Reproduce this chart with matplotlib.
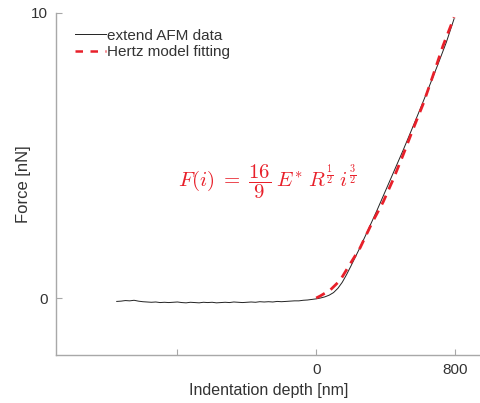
import matplotlib
matplotlib.use("Agg")
import matplotlib.pyplot as plt

# ---- data ----
# extend AFM data (black)
afm_x = [-1150, -1125, -1100, -1075, -1050, -1025, -1000, -975, -950, -925, -900,
         -875, -850, -825, -800, -775, -750, -725, -700, -675, -650, -625, -600,
         -575, -550, -525, -500, -475, -450, -425, -400, -375, -350, -325, -300,
         -275, -250, -225, -200, -175, -150, -125, -100, -75, -50, -25, 0,
         25, 50, 75, 100, 125, 150, 175, 200, 250, 300, 350, 400, 450, 500,
         550, 600, 650, 700, 750, 795]
afm_y = [-0.12, -0.11, -0.09, -0.10, -0.08, -0.11, -0.13, -0.14, -0.15, -0.14, -0.16,
         -0.15, -0.16, -0.15, -0.14, -0.16, -0.17, -0.15, -0.16, -0.17, -0.15, -0.16, -0.15,
         -0.17, -0.16, -0.15, -0.16, -0.14, -0.15, -0.16, -0.15, -0.14, -0.15, -0.13, -0.14,
         -0.13, -0.14, -0.12, -0.13, -0.12, -0.11, -0.10, -0.10, -0.08, -0.07, -0.05, -0.03,
         0.00, 0.04, 0.10, 0.19, 0.34, 0.55, 0.82, 1.12, 1.74, 2.40, 3.07, 3.77, 4.47, 5.17,
         5.90, 6.64, 7.40, 8.17, 8.97, 9.80]

# Hertz model fitting (red dashed)
fit_x = [0, 23, 81, 138, 196, 253, 322, 386, 443, 501, 558, 616, 673, 731, 795]
fit_y = [0.0, 0.07, 0.28, 0.62, 1.20, 1.76, 2.64, 3.37, 4.15, 5.02, 5.92, 6.80, 7.80, 8.85, 9.85]

x_ticks = [-800, 0, 800]
x_tick_labels = ["", "0", "800"]
y_ticks = [0, 10]
y_tick_labels = ["0", "10"]

plt.rcParams['font.family'] = ['Liberation Sans', 'DejaVu Sans']
plt.rcParams['mathtext.fontset'] = 'cm'

fig = plt.figure(figsize=(4.81, 4.03), dpi=100)
ax = fig.add_axes([56/481, 1 - 355/403, 1 - 56/481, (355 - 13)/403])

ax.plot(afm_x, afm_y, color='#222222', lw=0.7, label='extend AFM data')
ax.plot(fit_x, fit_y, color='#e8202a', lw=2.0, ls=(0, (3.5, 2.5)), label='Hertz model fitting')

ax.set_xlim(-1500, 950)
ax.set_ylim(-2, 10)
ax.set_xticks(x_ticks)
ax.set_xticklabels(x_tick_labels)
ax.set_yticks(y_ticks)
ax.set_yticklabels(y_tick_labels)

for s in ['top', 'right']:
    ax.spines[s].set_visible(False)
for s in ['left', 'bottom']:
    ax.spines[s].set_color('#a8a8a8')
    ax.spines[s].set_linewidth(1.0)
ax.tick_params(direction='in', length=4, color='#a8a8a8', labelcolor='#333333',
               labelsize=11, pad=6)

ax.set_xlabel('Indentation depth [nm]', fontsize=11.5, color='#333333', labelpad=4)
ax.set_ylabel('Force [nN]', fontsize=12, color='#333333', labelpad=0)

leg = ax.legend(loc='upper left', frameon=False, fontsize=11, handlelength=2.0,
                handletextpad=0.1, borderaxespad=0.3, labelspacing=0.15,
                bbox_to_anchor=(0.02, 0.985))
for t in leg.get_texts():
    t.set_color('#333333')
leg.get_lines()[1].set_linestyle((0, (3.0, 3.0)))
leg.get_lines()[1].set_linewidth(1.8)

ax.text(-282, 4.08,
        r'$F(i)\;=\;\dfrac{16}{9}\;E^{*}\;R^{\frac{1}{2}}\;i^{\frac{3}{2}}$',
        color='#e8202a', fontsize=15, ha='center', va='center')

fig.savefig('out.png', dpi=100)
